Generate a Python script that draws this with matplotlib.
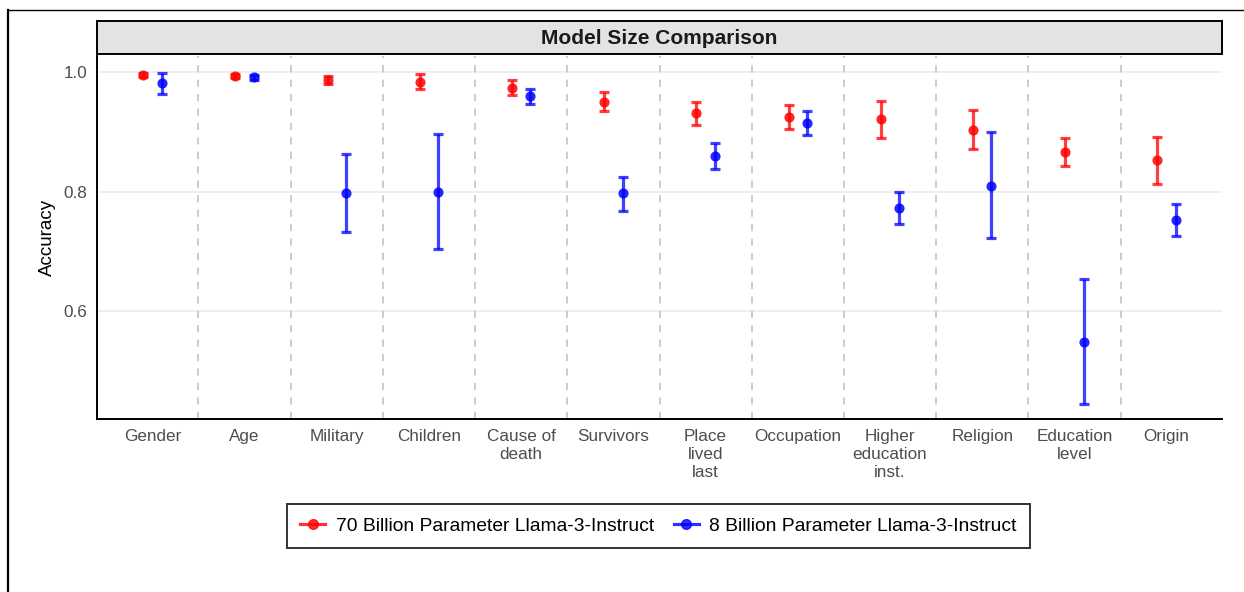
import matplotlib
matplotlib.use("Agg")
import matplotlib.pyplot as plt
from matplotlib.lines import Line2D
from matplotlib.patches import Rectangle
import numpy as np

plt.rcParams['font.family'] = ['Liberation Sans', 'DejaVu Sans']

categories = ["Gender", "Age", "Military", "Children", "Cause of\ndeath", "Survivors",
              "Place\nlived\nlast", "Occupation", "Higher\neducation\ninst.", "Religion",
              "Education\nlevel", "Origin"]

series_names = ["70 Billion Parameter Llama-3-Instruct", "8 Billion Parameter Llama-3-Instruct"]

acc_70b = [0.995, 0.993, 0.986, 0.984, 0.974, 0.950, 0.931, 0.924, 0.921, 0.903, 0.866, 0.853]
lo_70b  = [0.992, 0.990, 0.980, 0.971, 0.961, 0.935, 0.912, 0.905, 0.890, 0.871, 0.842, 0.813]
hi_70b  = [0.998, 0.997, 0.993, 0.997, 0.987, 0.966, 0.949, 0.944, 0.951, 0.936, 0.890, 0.892]

acc_8b = [0.981, 0.991, 0.797, 0.800, 0.960, 0.797, 0.860, 0.915, 0.772, 0.810, 0.549, 0.752]
lo_8b  = [0.963, 0.987, 0.733, 0.704, 0.947, 0.768, 0.838, 0.894, 0.746, 0.722, 0.444, 0.725]
hi_8b  = [0.999, 0.995, 0.862, 0.897, 0.972, 0.825, 0.882, 0.934, 0.799, 0.899, 0.653, 0.779]

colors = ["#FF0000", "#0000FF"]

fig = plt.figure(figsize=(12.44, 5.92), dpi=100)
W, H = 1244, 592
ax = fig.add_axes([97 / W, 1 - 419 / H, (1222 - 97) / W, (419 - 56) / H])

x = np.arange(1, len(categories) + 1)
offsets = [-0.1, 0.1]
data = [(acc_70b, lo_70b, hi_70b), (acc_8b, lo_8b, hi_8b)]

for (acc, lo, hi), off, col in zip(data, offsets, colors):
    acc = np.array(acc); lo = np.array(lo); hi = np.array(hi)
    ax.errorbar(x + off, acc, yerr=[acc - lo, hi - acc], fmt='none', ecolor=col,
                elinewidth=2.3, capsize=3.4, capthick=2.3, alpha=0.75, zorder=3)
    ax.plot(x + off, acc, 'o', color=col, markersize=7.3, alpha=0.85, zorder=4,
            markeredgewidth=0)

ax.set_xlim(0.4, len(categories) + 0.6)
ax.set_ylim(0.4195, 1.0267)
ax.set_yticks([0.6, 0.8, 1.0])
ax.set_yticklabels(["0.6", "0.8", "1.0"])
ax.set_xticks(x)
ax.set_xticklabels(categories, linespacing=1.25)
ax.tick_params(axis='both', length=0, labelsize=12.3, colors='#4D4D4D')
ax.tick_params(axis='x', pad=7)
ax.tick_params(axis='y', pad=7)
ax.grid(axis='y', color='#EBEBEB', linewidth=1.2, zorder=0)
ax.set_axisbelow(True)
for b in x[:-1] + 0.5:
    ax.axvline(b, color='#C8C8C8', linestyle=(0, (4, 4)), linewidth=1.3, zorder=1)

for s in ['top', 'right']:
    ax.spines[s].set_visible(False)
for s in ['left', 'bottom']:
    ax.spines[s].set_linewidth(1.4)
    ax.spines[s].set_color('black')

ax.set_ylabel("Accuracy", fontsize=13.5, color='black', labelpad=5)

# facet strip
fig.patches.append(Rectangle((97 / W, 1 - 54 / H), (1222 - 97) / W, 33 / H,
                             transform=fig.transFigure, facecolor='#E3E3E3',
                             edgecolor='black', linewidth=1.4, zorder=0))
fig.text((97 + 1222) / 2 / W, 1 - 38.5 / H, "Model Size Comparison", ha='center',
         va='center', fontsize=15, fontweight='bold', color='#1A1A1A')

# legend
handles = [Line2D([0], [0], color=c, marker='o', markersize=7, linewidth=2.3, alpha=0.8)
           for c in colors]
leg = fig.legend(handles, series_names, loc='center', bbox_to_anchor=(658.5 / W, 1 - 526 / H),
                 ncol=2, fontsize=13.9, frameon=True, fancybox=False, handlelength=1.3,
                 handletextpad=0.55, columnspacing=1.0, borderpad=0.7)
leg.get_frame().set_edgecolor('black')
leg.get_frame().set_linewidth(1.4)

# outer frame lines
fig.add_artist(Line2D([8 / W, 1.0], [1 - 10 / H, 1 - 10 / H], transform=fig.transFigure,
                      color='black', linewidth=1.0))
fig.add_artist(Line2D([8 / W, 8 / W], [1 - 10 / H, 0.0], transform=fig.transFigure,
                      color='black', linewidth=1.6))

fig.savefig("out.png", dpi=100)
